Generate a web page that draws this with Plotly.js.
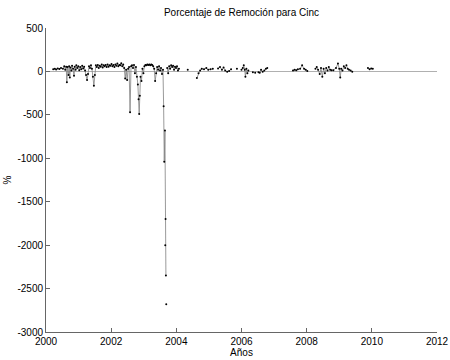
<!DOCTYPE html>
<html><head><meta charset="utf-8">
<script src="https://cdn.plot.ly/plotly-3.0.1.min.js"></script>
<style>html,body{margin:0;padding:0;background:#fff}#c{width:450px;height:360px}</style>
</head><body><div id="c"></div>
<script>
// Decimal years and removal percentages (null = gap in record)
var years = [
2000.22,2000.27,2000.31,2000.36,2000.41,2000.46,2000.52,2000.56,2000.59,2000.62,2000.64,2000.66,2000.69,2000.71,2000.73,2000.75,2000.78,2000.80,2000.83,2000.86,2000.88,2000.91,2000.93,2000.96,2000.99,
2001.02,2001.05,2001.08,2001.11,2001.14,2001.17,2001.20,2001.23,2001.26,2001.29,2001.32,2001.35,2001.38,2001.41,2001.44,2001.47,2001.50,2001.53,2001.56,2001.59,2001.62,2001.65,2001.68,2001.71,2001.74,2001.77,2001.80,2001.83,2001.86,2001.89,2001.92,2001.95,2001.98,
2002.01,2002.04,2002.07,2002.10,2002.13,2002.16,2002.19,2002.22,2002.25,2002.28,2002.31,2002.34,2002.37,2002.40,2002.43,2002.46,2002.49,2002.52,2002.55,2002.58,2002.61,2002.64,2002.67,2002.70,2002.73,2002.76,2002.79,2002.82,2002.84,2002.86,2002.88,2002.90,2002.93,2002.96,2002.99,
2003.02,2003.05,2003.08,2003.11,2003.14,2003.17,2003.20,2003.23,2003.26,2003.29,2003.32,2003.35,2003.38,2003.41,2003.44,2003.47,2003.50,2003.53,2003.56,2003.59,2003.61,2003.63,2003.65,2003.66,2003.67,2003.68,2003.685,2003.69,2003.695,
2003.72,2003.75,2003.78,2003.81,2003.84,2003.87,2003.90,2003.93,2003.96,2003.99,2004.02,2004.05,2004.08,2004.20,2004.35,2004.50,
2004.63,2004.68,2004.73,2004.78,2004.85,2004.92,2004.98,2005.05,2005.12,2005.20,
2005.28,2005.34,2005.40,2005.45,2005.50,2005.56,2005.62,2005.68,2005.77,2005.86,2005.93,
2006.00,2006.04,2006.07,2006.10,2006.12,2006.15,2006.18,2006.21,2006.28,2006.35,2006.38,2006.42,2006.47,2006.52,2006.56,2006.60,2006.65,2006.70,2006.75,2006.79,2007.20,
2007.58,2007.63,2007.68,2007.73,2007.80,2007.86,2007.92,2007.97,2008.02,2008.15,
2008.27,2008.31,2008.35,2008.40,2008.44,2008.48,2008.52,2008.56,2008.60,2008.64,2008.68,2008.72,2008.76,2008.82,2008.90,2008.96,2009.00,2009.03,2009.06,2009.10,2009.14,2009.18,2009.22,2009.26,2009.30,2009.35,2009.40,2009.65,
2009.88,2009.93,2009.98,2010.03
];
var removal = [
25,30,22,35,28,40,30,60,20,55,-125,50,-40,60,-70,45,10,65,30,-50,55,20,70,40,60,
15,50,25,65,35,55,10,-40,-100,-30,60,40,70,30,-60,-165,-40,70,50,75,40,65,55,80,45,70,60,75,50,80,55,70,65,
85,60,75,50,80,65,90,60,75,70,95,60,80,40,-80,20,-100,30,50,-470,60,70,40,75,-20,50,-60,-150,-320,-490,-280,-60,-110,30,-20,
60,75,70,80,75,80,70,80,75,60,30,-110,-20,50,20,60,10,40,-30,20,-400,-1040,-680,-2000,-1700,-2350,null,-2680,null,
40,-20,60,30,70,50,65,20,55,40,60,10,30,null,20,null,
-75,-20,10,30,25,40,20,25,30,null,
35,50,20,45,10,-5,5,25,null,30,null,
20,40,70,20,-60,30,-20,10,null,-10,null,-15,null,-10,-15,20,-5,10,30,40,null,
10,20,15,25,30,70,30,20,5,null,
30,50,20,-30,40,-60,30,-20,40,10,50,20,15,15,40,90,30,-70,30,10,60,40,70,30,20,10,-5,null,
40,25,35,30
];
var xTicks = [2000,2002,2004,2006,2008,2010,2012];
var yTicks = [-3000,-2500,-2000,-1500,-1000,-500,0,500];

var font = {family:'"Liberation Sans", Arial, sans-serif', size:10, color:'#000'};
Plotly.newPlot('c', [{
  x: years, y: removal, type:'scatter', mode:'lines+markers', connectgaps:false,
  line:{color:'#808080', width:0.8},
  marker:{color:'#000', size:2},
  hoverinfo:'skip'
}], {
  width:450, height:360,
  margin:{l:46, r:13, t:28, b:28},
  paper_bgcolor:'#fff', plot_bgcolor:'#fff',
  font: font,
  showlegend:false,
  title:{text:'Porcentaje de Remoción para Cinc', x:0.5, xref:'paper', y:0.965, yref:'container', xanchor:'center', yanchor:'middle', font:{family:font.family, size:10, color:'#000'}},
  xaxis:{range:[2000,2012], tickvals:xTicks, ticktext:xTicks.map(String), ticks:'inside', ticklen:4, tickcolor:'#666',
    showline:true, linecolor:'#666', linewidth:1, showgrid:false, zeroline:false, mirror:false,
    title:{text:'Años', standoff:2, font:{family:font.family, size:10, color:'#000'}}},
  yaxis:{range:[-3000,500], tickvals:yTicks, ticktext:yTicks.map(String), ticks:'inside', ticklen:4, tickcolor:'#666',
    showline:true, linecolor:'#666', linewidth:1, showgrid:false, zeroline:true, zerolinecolor:'#b0b0b0', zerolinewidth:1, mirror:false,
    title:{text:'%', standoff:3, font:{family:font.family, size:10, color:'#000'}}}
}, {staticPlot:true, displayModeBar:false});
</script></body></html>
